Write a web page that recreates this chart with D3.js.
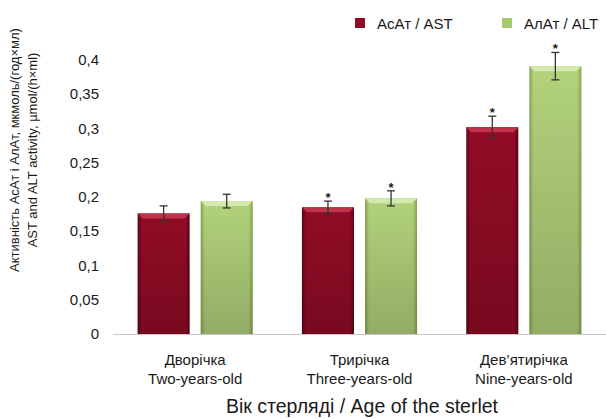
<!DOCTYPE html>
<meta charset="utf-8">
<style>
  body { margin: 0; background: #fff; }
  text { font-family: "Liberation Sans", Arial, sans-serif; fill: #1a1a1a; }
</style>
<body>
<script src="https://d3js.org/d3.v7.min.js"></script>
<script>

var width = 606,
    height = 419;

// data
var categories = ["Дворічка", "Трирічка", "Дев’ятирічка"];
var categoriesEn = ["Two-years-old", "Three-years-old", "Nine-years-old"];
var seriesNames = ["АсАт / AST", "АлАт / ALT"];
var astValues = [0.176, 0.185, 0.302];
var astErrors = [0.011, 0.009, 0.016];
var altValues = [0.194, 0.198, 0.391];
var altErrors = [0.010, 0.011, 0.020];
var astSignif = [false, true, true];
var altSignif = [false, true, true];
var yTicks = [0, 0.05, 0.1, 0.15, 0.2, 0.25, 0.3, 0.35, 0.4];

var svg = d3.select("body").append("svg")
    .attr("width", width)
    .attr("height", height);

var fmt = d3.formatLocale({decimal: ",", thousands: " ", grouping: [3], currency: ["", ""]}).format(".2~f");

var x0 = d3.scaleBand().domain(d3.range(categories.length)).range([113, 606]);
var x1 = d3.scaleBand().domain([0, 1]).range([0, x0.bandwidth()])
    .paddingInner(0.175).paddingOuter(0.39);
var y = d3.scaleLinear().domain([0, 0.4]).range([334, 60]);

// gradients for the bevelled bars
var defs = svg.append("defs");
function grad(id, edge, mid) {
  var g = defs.append("linearGradient").attr("id", id)
      .attr("x1", 0).attr("x2", 1).attr("y1", 0).attr("y2", 0);
  g.append("stop").attr("offset", "0%").attr("stop-color", edge);
  g.append("stop").attr("offset", "8%").attr("stop-color", mid);
  g.append("stop").attr("offset", "92%").attr("stop-color", mid);
  g.append("stop").attr("offset", "100%").attr("stop-color", edge);
}
grad("gAst", "#5e0514", "#920c26");
grad("gAlt", "#86a450", "#b2d27b");
var vshade = defs.append("linearGradient").attr("id", "vshade")
    .attr("x1", 0).attr("x2", 0).attr("y1", 0).attr("y2", 1);
vshade.append("stop").attr("offset", "0%").attr("stop-color", "#000").attr("stop-opacity", 0);
vshade.append("stop").attr("offset", "100%").attr("stop-color", "#000").attr("stop-opacity", 0.18);

// y tick labels
svg.append("g").selectAll("text")
    .data(yTicks)
    .enter().append("text")
    .attr("x", 99)
    .attr("y", d => y(d) + 5)
    .attr("text-anchor", "end")
    .style("font-size", "15px")
    .text(d => fmt(d));

// bars
var rows = [];
categories.forEach(function(c, i) {
  rows.push({cat: i, s: 0, v: astValues[i], e: astErrors[i], sig: astSignif[i]});
  rows.push({cat: i, s: 1, v: altValues[i], e: altErrors[i], sig: altSignif[i]});
});

var bar = svg.append("g").selectAll("g")
    .data(rows)
    .enter().append("g")
    .attr("transform", d => "translate(" + (x0(d.cat) + x1(d.s)) + ",0)");

bar.append("rect")
    .attr("y", d => y(d.v))
    .attr("width", x1.bandwidth())
    .attr("height", d => y(0) - y(d.v))
    .style("fill", d => d.s ? "url(#gAlt)" : "url(#gAst)");
bar.append("rect")
    .attr("y", d => y(d.v))
    .attr("width", x1.bandwidth())
    .attr("height", d => y(0) - y(d.v))
    .style("fill", "url(#vshade)");
// lighter top bevel
bar.append("path")
    .attr("d", d => {
      var t = y(d.v), w = x1.bandwidth();
      return "M0," + t + "H" + w + "L" + (w - 5) + "," + (t + 5) + "H5Z";
    })
    .style("fill", d => d.s ? "#d4e9ac" : "#c03249");

// error bars
var eb = bar.append("g").style("stroke", "#333").style("stroke-width", 1.3);
eb.append("line")
    .attr("x1", x1.bandwidth() / 2).attr("x2", x1.bandwidth() / 2)
    .attr("y1", d => y(d.v + d.e)).attr("y2", d => y(d.v - d.e));
eb.append("line")
    .attr("x1", x1.bandwidth() / 2 - 4).attr("x2", x1.bandwidth() / 2 + 4)
    .attr("y1", d => y(d.v + d.e)).attr("y2", d => y(d.v + d.e));
eb.append("line")
    .attr("x1", x1.bandwidth() / 2 - 4).attr("x2", x1.bandwidth() / 2 + 4)
    .attr("y1", d => y(d.v - d.e)).attr("y2", d => y(d.v - d.e));

bar.filter(d => d.sig).append("text")
    .attr("x", x1.bandwidth() / 2)
    .attr("y", d => y(d.v + d.e) + 1)
    .attr("text-anchor", "middle")
    .style("font-size", "13px")
    .style("font-weight", "bold")
    .text("*");

// x axis line
svg.append("line")
    .attr("x1", 113).attr("x2", 606)
    .attr("y1", y(0) + 0.5).attr("y2", y(0) + 0.5)
    .style("stroke", "#c8c8c8").style("stroke-width", 1.2);

// category labels
var cl = svg.append("g").selectAll("text")
    .data(categories)
    .enter().append("text")
    .attr("text-anchor", "middle")
    .style("font-size", "15px")
    .attr("transform", (d, i) => "translate(" + (x0(i) + x0.bandwidth() / 2) + ",0)");
cl.append("tspan").attr("x", 0).attr("y", 365).text(d => d);
cl.append("tspan").attr("x", 0).attr("y", 384).text((d, i) => categoriesEn[i]);

// axis titles
svg.append("text")
    .attr("x", 362).attr("y", 413)
    .attr("text-anchor", "middle")
    .style("font-size", "19.5px")
    .text("Вік стерляді / Age of the sterlet");

var yt = svg.append("text")
    .attr("transform", "translate(0,150) rotate(-90)")
    .attr("text-anchor", "middle")
    .style("font-size", "13px");
yt.append("tspan").attr("x", 0).attr("y", 18.5).text("Активність АсАт і АлАт, мкмоль/(год×мл)");
yt.append("tspan").attr("x", 0).attr("y", 36.5).text("AST and ALT activity, µmol/(h×ml)");

// legend
var lg = svg.append("g").selectAll("g")
    .data(seriesNames)
    .enter().append("g")
    .attr("transform", (d, i) => "translate(" + [355, 502][i] + ",18)");
lg.append("rect")
    .attr("width", 10).attr("height", 10)
    .style("fill", (d, i) => i ? "#a9c96f" : "#8e0c25");
lg.append("text")
    .attr("x", 22).attr("y", 11)
    .style("font-size", "15px")
    .text(d => d);

</script>
